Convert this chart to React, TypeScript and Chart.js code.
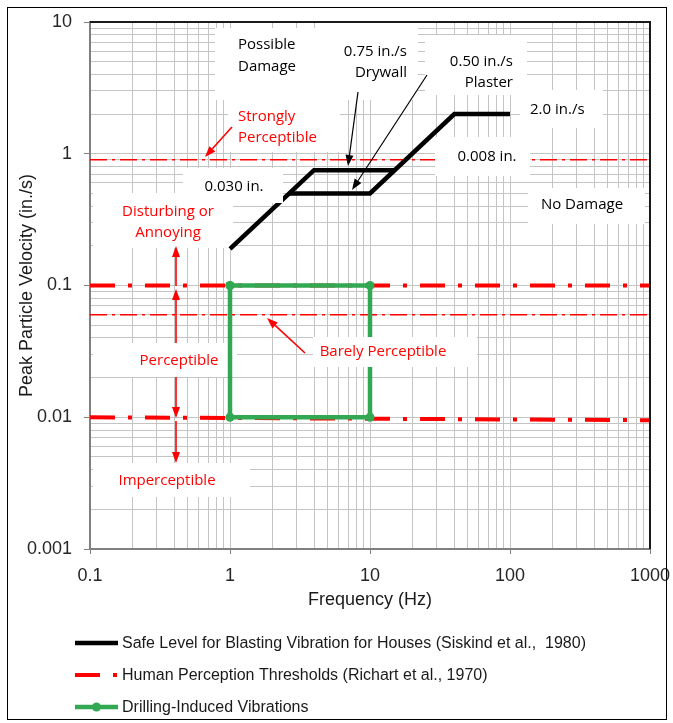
import React, { useEffect, useRef } from 'react';
import { Chart, registerables } from 'chart.js';

Chart.register(...registerables);

// ---------------- data ----------------
const siskindLowFreq = [1, 2.65, 3.98, 14.9];
const siskindLowPPV = [0.19, 0.5, 0.75, 0.75];
const siskindHighFreq = [2.65, 10, 40, 100];
const siskindHighPPV = [0.5, 0.5, 2.0, 2.0];

const perceptionFreq = [0.1, 1000];
const stronglyPerceptiblePPV = [0.9, 0.9];
const disturbingPPV = [0.1, 0.1];
const barelyPerceptiblePPV = [0.06, 0.06];
const perceptiblePPV = [0.01, 0.0095];

const drillingFreq = [1, 10, 10, 1, 1];
const drillingPPV = [0.1, 0.1, 0.01, 0.01, 0.1];

const xTickLabels = ['0.1', '1', '10', '100', '1000'];
const yTickLabels = ['0.001', '0.01', '0.1', '1', '10'];

const seriesNames = [
  'Safe Level for Blasting Vibration for Houses (Siskind et al.,  1980)',
  'Human Perception Thresholds (Richart et al., 1970)',
  'Drilling-Induced Vibrations',
];

// ---------------- styles ----------------
const RED = '#ff0000';
const GREEN = '#33a852';
const AXIS_FONT = "'Liberation Sans', Arial, sans-serif";
const NOTE_FONT = "'Open Sans', 'Noto Sans', sans-serif";

// annotation layout in reference-picture pixels (plot area 90..650 x 22..549)
const REF_L = 90, REF_T = 22, REF_W = 560, REF_H = 527;

const noteBoxes = [
  { x1: 215, y1: 28, x2: 320, y2: 100, over: false },
  { x1: 320, y1: 23, x2: 418, y2: 100, over: false },
  { x1: 425, y1: 35, x2: 527, y2: 95, over: false },
  { x1: 520, y1: 90, x2: 603, y2: 128, over: false },
  { x1: 228, y1: 100, x2: 340, y2: 152, over: false },
  { x1: 435, y1: 137, x2: 530, y2: 176, over: true },
  { x1: 528, y1: 188, x2: 645, y2: 224, over: false },
  { x1: 183, y1: 168, x2: 283, y2: 203, over: true },
  { x1: 93, y1: 193, x2: 233, y2: 248, over: false },
  { x1: 93, y1: 343, x2: 237, y2: 377, over: false },
  { x1: 313, y1: 337, x2: 477, y2: 367, over: true },
  { x1: 93, y1: 463, x2: 250, y2: 497, over: false },
];

const noteTexts = [
  { t: 'Possible', x: 238, y: 45, a: 'left', c: '#000' },
  { t: 'Damage', x: 238, y: 67, a: 'left', c: '#000' },
  { t: '0.75 in./s', x: 407, y: 52, a: 'right', c: '#000' },
  { t: 'Drywall', x: 407, y: 73, a: 'right', c: '#000' },
  { t: '0.50 in./s', x: 513, y: 62, a: 'right', c: '#000' },
  { t: 'Plaster', x: 513, y: 83, a: 'right', c: '#000' },
  { t: '2.0 in./s', x: 530, y: 110, a: 'left', c: '#000' },
  { t: '0.008 in.', x: 487, y: 157, a: 'center', c: '#000' },
  { t: 'No Damage', x: 582, y: 205, a: 'center', c: '#000' },
  { t: '0.030 in.', x: 234, y: 187, a: 'center', c: '#000' },
  { t: 'Strongly', x: 238, y: 117, a: 'left', c: RED },
  { t: 'Perceptible', x: 238, y: 138, a: 'left', c: RED },
  { t: 'Disturbing or', x: 168, y: 212, a: 'center', c: RED },
  { t: 'Annoying', x: 168, y: 233, a: 'center', c: RED },
  { t: 'Perceptible', x: 179, y: 361, a: 'center', c: RED },
  { t: 'Imperceptible', x: 167, y: 481, a: 'center', c: RED },
  { t: 'Barely Perceptible', x: 383, y: 352, a: 'center', c: RED },
];

const noteArrows = [
  { x1: 358, y1: 92, x2: 348, y2: 166, c: '#000', w: 1.2 },
  { x1: 427, y1: 75, x2: 352, y2: 190, c: '#000', w: 1.2 },
  { x1: 232, y1: 127, x2: 205, y2: 157, c: RED, w: 1.6 },
  { x1: 305, y1: 353, x2: 267, y2: 318, c: RED, w: 1.6 },
  { x1: 176, y1: 286, x2: 176, y2: 246, c: RED, w: 1.6 },
  { x1: 176, y1: 343, x2: 176, y2: 289, c: RED, w: 1.6 },
  { x1: 176, y1: 377, x2: 176, y2: 418, c: RED, w: 1.6 },
  { x1: 176, y1: 421, x2: 176, y2: 463, c: RED, w: 1.6 },
];

// ---------------- helpers ----------------
const pts = (xs: number[], ys: number[]) => xs.map((x, i) => ({ x, y: ys[i] }));

function decadeTicks(min: number, max: number) {
  const out: { value: number; major: boolean }[] = [];
  for (let e = Math.round(Math.log10(min)); e < Math.round(Math.log10(max)); e++) {
    for (let k = 1; k < 10; k++) out.push({ value: k * Math.pow(10, e), major: k === 1 });
  }
  out.push({ value: max, major: true });
  return out;
}

function labelFor(v: number, labels: string[]) {
  const hit = labels.find((l) => Math.abs(parseFloat(l) - v) < 1e-9 * Math.max(1, v));
  return hit !== undefined ? hit : '';
}

function mapPt(area: any, px: number, py: number) {
  return [area.left + ((px - REF_L) * area.width) / REF_W, area.top + ((py - REF_T) * area.height) / REF_H];
}

function drawArrow(ctx: CanvasRenderingContext2D, x1: number, y1: number, x2: number, y2: number, color: string, w: number) {
  const ang = Math.atan2(y2 - y1, x2 - x1);
  const hl = 11, hw = 8;
  const bx = x2 - hl * Math.cos(ang), by = y2 - hl * Math.sin(ang);
  ctx.save();
  ctx.strokeStyle = color;
  ctx.lineWidth = w;
  ctx.beginPath();
  ctx.moveTo(x1, y1);
  ctx.lineTo(bx, by);
  ctx.stroke();
  ctx.fillStyle = color;
  ctx.beginPath();
  ctx.moveTo(x2, y2);
  ctx.lineTo(bx + (hw / 2) * Math.sin(ang), by - (hw / 2) * Math.cos(ang));
  ctx.lineTo(bx - (hw / 2) * Math.sin(ang), by + (hw / 2) * Math.cos(ang));
  ctx.closePath();
  ctx.fill();
  ctx.restore();
}

function drawBoxes(chart: any, over: boolean) {
  const ctx = chart.ctx, area = chart.chartArea;
  ctx.save();
  ctx.fillStyle = '#ffffff';
  noteBoxes.filter((b) => b.over === over).forEach((b) => {
    const [x1, y1] = mapPt(area, b.x1, b.y1);
    const [x2, y2] = mapPt(area, b.x2, b.y2);
    ctx.fillRect(x1, y1, x2 - x1, y2 - y1);
  });
  ctx.restore();
}

const notesPlugin = {
  id: 'notes',
  beforeDatasetsDraw(chart: any) {
    drawBoxes(chart, false);
  },
  afterDatasetsDraw(chart: any) {
    drawBoxes(chart, true);
    const ctx = chart.ctx, area = chart.chartArea;
    ctx.save();
    ctx.font = `15px ${NOTE_FONT}`;
    ctx.textBaseline = 'middle';
    noteTexts.forEach((n) => {
      const [x, y] = mapPt(area, n.x, n.y);
      ctx.fillStyle = n.c;
      ctx.textAlign = n.a as CanvasTextAlign;
      ctx.fillText(n.t, x, y);
    });
    ctx.restore();
    noteArrows.forEach((a) => {
      const [x1, y1] = mapPt(area, a.x1, a.y1);
      const [x2, y2] = mapPt(area, a.x2, a.y2);
      drawArrow(ctx, x1, y1, x2, y2, a.c, a.w);
    });
  },
  afterDraw(chart: any) {
    const ctx = chart.ctx, area = chart.chartArea;
    ctx.save();
    // top & right plot frame
    ctx.strokeStyle = '#1a1a1a';
    ctx.lineWidth = 2;
    ctx.beginPath();
    ctx.moveTo(area.left, area.top);
    ctx.lineTo(area.right, area.top);
    ctx.lineTo(area.right, area.bottom);
    ctx.stroke();
    // outer frame
    ctx.strokeStyle = '#000';
    ctx.lineWidth = 1;
    ctx.strokeRect(7.5, 7.5, chart.width - 14, chart.height - 11);
    // legend
    const rows = [643, 675, 707];
    const lx1 = 75, lx2 = 118;
    const legendSets = chart.data.datasets.filter((d: any) => d.label);
    ctx.font = `16px ${AXIS_FONT}`;
    ctx.textBaseline = 'middle';
    ctx.textAlign = 'left';
    legendSets.forEach((d: any, i: number) => {
      const y = rows[i];
      ctx.save();
      ctx.strokeStyle = d.borderColor;
      ctx.lineWidth = d.borderWidth;
      ctx.setLineDash(d.borderDash || []);
      ctx.beginPath();
      ctx.moveTo(lx1, y);
      ctx.lineTo(lx2, y);
      ctx.stroke();
      ctx.restore();
      if (d.pointRadius > 0) {
        ctx.fillStyle = d.pointBackgroundColor;
        ctx.beginPath();
        ctx.arc((lx1 + lx2) / 2, y, d.pointRadius, 0, Math.PI * 2);
        ctx.fill();
      }
      ctx.fillStyle = '#1a1a1a';
      ctx.fillText(d.label, 122, y + 1);
    });
    ctx.restore();
  },
};

export default function App() {
  const ref = useRef<HTMLCanvasElement>(null);
  useEffect(() => {
    const canvas = ref.current;
    if (!canvas) return;
    const thickRed = { borderColor: RED, borderWidth: 4, borderDash: [25, 13, 4, 13], pointRadius: 0, borderCapStyle: 'butt', order: 2 };
    const thinRed = { borderColor: RED, borderWidth: 1.6, borderDash: [17, 5, 3, 5], pointRadius: 0, borderCapStyle: 'butt', order: 2 };
    const zeroPad = (s: any) => { s.paddingLeft = 0; s.paddingRight = 0; s.paddingTop = 0; s.paddingBottom = 0; };
    const chart = new Chart(canvas, {
      type: 'line',
      data: {
        datasets: [
          { label: seriesNames[0], data: pts(siskindLowFreq, siskindLowPPV), borderColor: '#000', borderWidth: 4.5, pointRadius: 0, borderJoinStyle: 'miter', borderCapStyle: 'butt', order: 0 } as any,
          { label: '', data: pts(siskindHighFreq, siskindHighPPV), borderColor: '#000', borderWidth: 4.5, pointRadius: 0, borderJoinStyle: 'miter', borderCapStyle: 'butt', order: 0 } as any,
          { label: seriesNames[1], data: pts(perceptionFreq, disturbingPPV), ...thickRed } as any,
          { label: '', data: pts(perceptionFreq, perceptiblePPV), ...thickRed } as any,
          { label: '', data: pts(perceptionFreq, stronglyPerceptiblePPV), ...thinRed } as any,
          { label: '', data: pts(perceptionFreq, barelyPerceptiblePPV), ...thinRed } as any,
          { label: seriesNames[2], data: pts(drillingFreq, drillingPPV), borderColor: GREEN, borderWidth: 4.5, pointRadius: 4.5, pointBackgroundColor: GREEN, pointBorderWidth: 0, borderJoinStyle: 'miter', order: 1 } as any,
        ],
      },
      options: {
        responsive: false,
        animation: false,
        devicePixelRatio: 1,
        layout: { padding: { left: 0, top: 22, right: 23, bottom: 104 } },
        plugins: { legend: { display: false }, tooltip: { enabled: false } },
        elements: { line: { tension: 0 } },
        scales: {
          x: {
            type: 'logarithmic',
            min: 0.1,
            max: 1000,
            afterBuildTicks: (s: any) => { s.ticks = decadeTicks(0.1, 1000); },
            afterFit: (s: any) => { s.height = 70; zeroPad(s); },
            ticks: {
              autoSkip: false, maxRotation: 0, minRotation: 0, padding: 11, color: '#262626',
              font: { family: AXIS_FONT, size: 18 },
              callback: (v: any) => labelFor(Number(v), xTickLabels),
            },
            grid: {
              color: '#c4c4c4', lineWidth: 1, tickLength: 5,
              tickColor: (c: any) => (c.tick && c.tick.major ? '#808080' : 'rgba(0,0,0,0)'),
            },
            border: { color: '#808080', width: 2 },
            title: { display: true, text: 'Frequency (Hz)', color: '#1a1a1a', font: { family: AXIS_FONT, size: 18 }, padding: { top: 0, bottom: 8 } },
          },
          y: {
            type: 'logarithmic',
            min: 0.001,
            max: 10,
            afterBuildTicks: (s: any) => { s.ticks = decadeTicks(0.001, 10); },
            afterFit: (s: any) => { s.width = 90; zeroPad(s); },
            ticks: {
              autoSkip: false, padding: 12, color: '#262626',
              font: { family: AXIS_FONT, size: 18 },
              callback: (v: any) => labelFor(Number(v), yTickLabels),
            },
            grid: {
              color: '#c4c4c4', lineWidth: 1, tickLength: 6,
              tickColor: (c: any) => (c.tick && c.tick.major ? '#808080' : 'rgba(0,0,0,0)'),
            },
            border: { color: '#808080', width: 2 },
            title: { display: true, text: 'Peak Particle Velocity (in./s)', color: '#1a1a1a', font: { family: AXIS_FONT, size: 18 }, padding: { top: 16, bottom: 0 } },
          },
        },
      } as any,
      plugins: [notesPlugin],
    });
    return () => chart.destroy();
  }, []);
  return (
    <canvas
      ref={ref}
      width={673}
      height={723}
      style={{ position: 'absolute', left: 0, top: 0, width: 673, height: 723, background: '#fff' }}
    />
  );
}
